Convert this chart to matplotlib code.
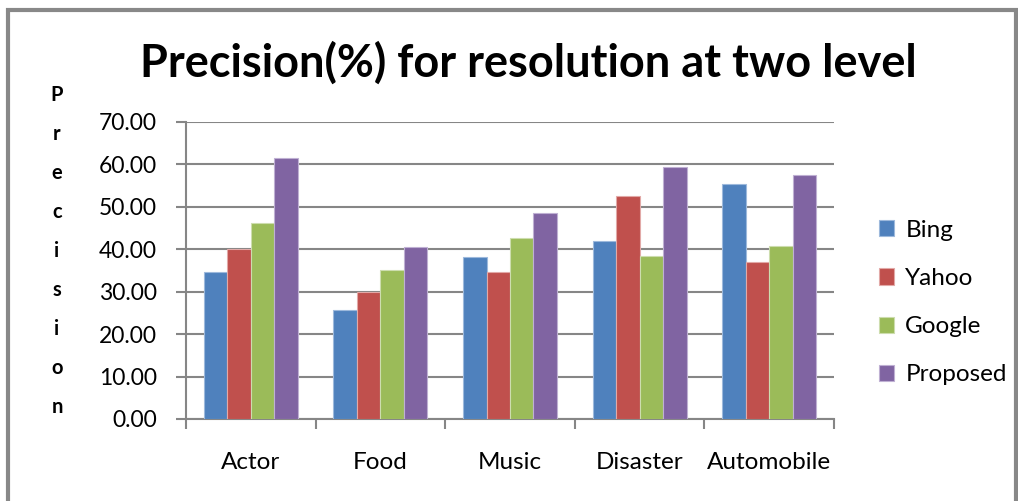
import numpy as np
import matplotlib.pyplot as plt
from matplotlib.patches import Rectangle

plt.rcParams['font.family'] = ['Lato', 'DejaVu Sans']

# dados
categorias = ["Actor", "Food", "Music", "Disaster", "Automobile"]
bing = [34.6, 25.6, 38.2, 42.0, 55.5]
yahoo = [40.1, 30.0, 34.7, 52.5, 37.0]
google = [46.1, 35.1, 42.6, 38.4, 40.7]
proposed = [61.4, 40.6, 48.6, 59.5, 57.4]
series = ["Bing", "Yahoo", "Google", "Proposed"]
cores = ["#4F81BD", "#C0504D", "#9BBB59", "#8064A2"]
bordas = ["#9DB9DC", "#E2A9A7", "#CDDDAE", "#BFB0D3"]

fig = plt.figure(figsize=(10.18, 5.01), dpi=100)
ax = fig.add_axes([0.1827, 0.1637, 0.6366, 0.5928])

x = np.arange(len(categorias))
w = 0.181
for i, vals in enumerate([bing, yahoo, google, proposed]):
    ax.bar(x + (i - 1.5) * w, vals, width=w, color=cores[i], edgecolor=bordas[i],
           linewidth=0.8, label=series[i], zorder=3)

ax.set_xlim(-0.5, len(categorias) - 0.5)
ax.set_ylim(0, 70)
ax.set_yticks(np.arange(0, 71, 10))
ax.set_yticklabels([f"{v:.2f}" for v in np.arange(0, 71, 10)], fontsize=16.5)
ax.yaxis.grid(True, color="#868686", linewidth=1.5, zorder=0)
ax.set_axisbelow(True)

# ticks nas fronteiras das categorias (estilo Excel)
ax.set_xticks(np.arange(-0.5, len(categorias), 1.0))
ax.set_xticklabels([])
ax.set_xticks(x, minor=True)
ax.set_xticklabels(categorias, minor=True, fontsize=17.5)
ax.tick_params(axis="x", which="minor", length=0, pad=24)
ax.tick_params(axis="x", which="major", length=7, width=1.5, color="#868686")
ax.tick_params(axis="y", length=7, width=1.5, color="#868686", pad=14)

for s in ["top", "right"]:
    ax.spines[s].set_visible(False)
for s in ["left", "bottom"]:
    ax.spines[s].set_color("#868686")
    ax.spines[s].set_linewidth(1.5)

fig.text(0.519, 0.874, "Precision(%) for resolution at two level", ha="center",
         va="center", fontsize=32.5, fontweight="bold")

fig.text(0.056, 0.499, "\n".join("Precision"), ha="center", va="center",
         fontsize=14.5, fontweight="bold", linespacing=2.19)

leg = ax.legend(loc="center left", bbox_to_anchor=(1.035, 0.392), frameon=False,
                fontsize=17.5, handlelength=0.65, handleheight=0.65,
                labelspacing=1.12, handletextpad=0.45)

fig.add_artist(Rectangle((0.008, -0.05), 0.99, 1.03, transform=fig.transFigure,
                         fill=False, edgecolor="#888888", linewidth=3))

fig.savefig("out.png", dpi=100)
